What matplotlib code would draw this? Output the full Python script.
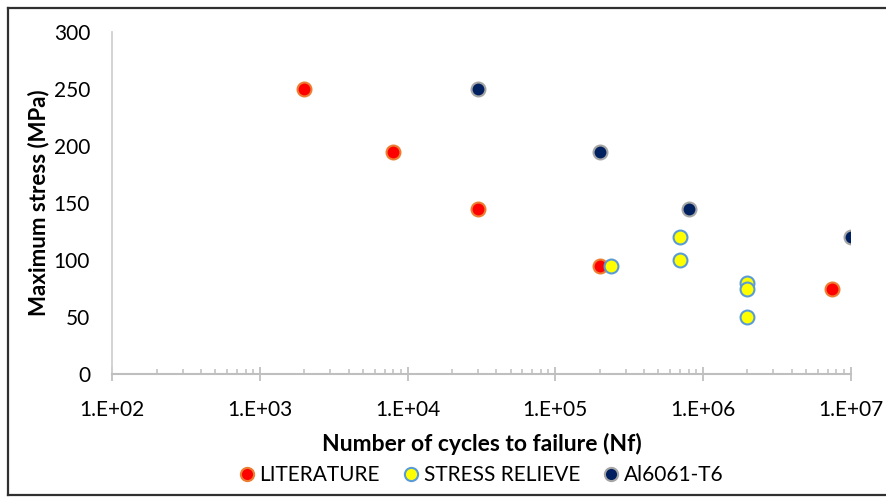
import matplotlib
matplotlib.use("Agg")
import matplotlib.pyplot as plt
from matplotlib.lines import Line2D
from matplotlib.ticker import FuncFormatter, LogLocator, NullFormatter
import numpy as np

# ---- data ----
lit_cycles = [2000, 8000, 30000, 200000, 7.5e6]
lit_stress = [250, 195, 145, 95, 75]

sr_cycles = [2.4e5, 7e5, 7e5, 2e6, 2e6, 2e6]
sr_stress = [95, 120, 100, 80, 75, 50]

al_cycles = [30000, 200000, 8e5, 1e7]
al_stress = [250, 195, 145, 120]

series_names = ["LITERATURE", "STRESS RELIEVE", "Al6061-T6"]
yticks = [0, 50, 100, 150, 200, 250, 300]

FONT = ["Lato", "DejaVu Sans"]
plt.rcParams["font.family"] = FONT

W, H = 887, 497
fig = plt.figure(figsize=(W / 100, H / 100), dpi=100)
ax = fig.add_axes([112.3 / W, (H - 374.3) / H, 738.2 / W, 342.3 / H])

ms = 10
ax.plot(lit_cycles, lit_stress, linestyle="none", marker="o", ms=ms,
        mfc="#FF0000", mec="#ED7D31", mew=1.5, label=series_names[0], zorder=3)
ax.plot(sr_cycles, sr_stress, linestyle="none", marker="o", ms=ms,
        mfc="#FFFF00", mec="#5B9BD5", mew=1.5, label=series_names[1], zorder=3)
ax.plot(al_cycles, al_stress, linestyle="none", marker="o", ms=ms,
        mfc="#002060", mec="#A5A5A5", mew=1.5, label=series_names[2], zorder=3)

ax.set_xscale("log")
ax.set_xlim(1e2, 1e7)
ax.set_ylim(0, 300)
ax.set_yticks(yticks)

gray = "#BFBFBF"
for s in ["top", "right"]:
    ax.spines[s].set_visible(False)
ax.spines["left"].set_color("#D0D0D0")
ax.spines["bottom"].set_color(gray)
ax.spines["left"].set_linewidth(1.3)
ax.spines["bottom"].set_linewidth(1.5)

ax.xaxis.set_major_locator(LogLocator(base=10, numticks=10))
ax.xaxis.set_minor_locator(LogLocator(base=10, subs=np.arange(2, 10), numticks=100))
ax.xaxis.set_minor_formatter(NullFormatter())
ax.xaxis.set_major_formatter(FuncFormatter(lambda v, p: "1.E+%02d" % int(round(np.log10(v)))))

ax.tick_params(axis="x", which="major", direction="inout", length=9.5, width=1.3,
               color=gray, labelsize=15, pad=14)
ax.tick_params(axis="x", which="minor", direction="in", length=3.8, width=1.1, color=gray)
ax.tick_params(axis="y", length=0, labelsize=15, pad=16)

ax.set_xlabel("Number of cycles to failure (Nf)", fontsize=16.5, fontweight="bold", labelpad=9)
ax.set_ylabel("Maximum stress (MPa)", fontsize=16, fontweight="bold", labelpad=3)

fig.legend(loc="center", bbox_to_anchor=(480 / W, (H - 475) / H), ncol=3, frameon=False,
           fontsize=15, handletextpad=0.1, columnspacing=1.0, markerscale=0.95,
           borderaxespad=0, handlelength=1.0)

# chart border (right edge cropped in reference)
tr = fig.transFigure
def px(x, y):
    return x / W, 1 - y / H
for (x0, y0), (x1, y1) in [((8, 8), (W + 5, 8)), ((8, 8), (8, 495)), ((8, 495), (W + 5, 495))]:
    a, b = px(x0, y0)
    c, d = px(x1, y1)
    fig.add_artist(Line2D([a, c], [b, d], transform=tr, color="#303030", lw=1.6))

fig.savefig("out.png", dpi=100)
